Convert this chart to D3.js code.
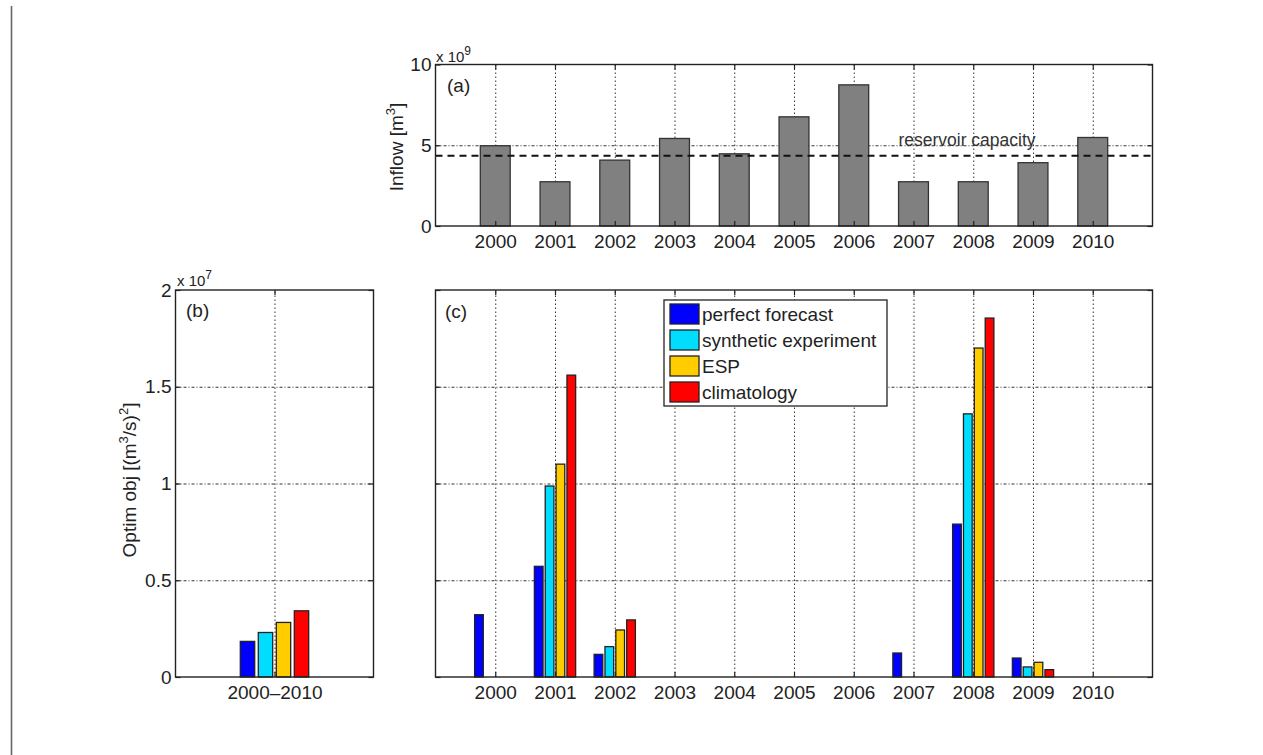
<!DOCTYPE html>
<html>
<head>
<meta charset="utf-8">
<script src="https://cdn.jsdelivr.net/npm/d3@7"></script>
<style>
body { margin: 0; background: #fff; }
svg text { font-family: "Liberation Sans", Arial, Helvetica, sans-serif; fill: #222; }
.grid line { stroke: #333; stroke-width: 1; }
.gridx line { stroke-dasharray: 1.5, 2.5; }
.gridy line { stroke-dasharray: 3, 2, 1, 2; }
.ticks line { stroke: #222; stroke-width: 1.2; }
.ticks text { font-size: 19px; }
</style>
</head>
<body>
<div id="chart"></div>
<script>
// (a) yearly inflow, x 10^9 m3
const years = [2000, 2001, 2002, 2003, 2004, 2005, 2006, 2007, 2008, 2009, 2010];
const inflow = [4.97, 2.74, 4.08, 5.42, 4.47, 6.76, 8.74, 2.74, 2.74, 3.92, 5.48];
const reservoirCapacity = 4.35;

// (b) and (c) optim objective, x 10^7 (m3/s)^2
const seriesNames = ["perfect forecast", "synthetic experiment", "ESP", "climatology"];
const seriesColors = ["#0000ff", "#00ddff", "#ffcc00", "#ff0000"];
const totalObj = [0.184, 0.23, 0.282, 0.342]; // 2000-2010
const perfectForecast = [0.322, 0.572, 0.117, 0, 0, 0, 0, 0.124, 0.79, 0.098, 0];
const syntheticExp = [0, 0.987, 0.157, 0, 0, 0, 0, 0, 1.36, 0.052, 0];
const esp = [0, 1.10, 0.243, 0, 0, 0, 0, 0, 1.70, 0.076, 0];
const climatology = [0, 1.56, 0.295, 0, 0, 0, 0, 0, 1.855, 0.038, 0];

const inflowTicks = [0, 5, 10];
const objTicks = [0, 0.5, 1, 1.5, 2];

var W = 1263, H = 755;
var svg = d3.select("#chart").append("svg")
    .attr("width", W)
    .attr("height", H);
svg.append("rect").attr("width", W).attr("height", H).attr("fill", "#fff");

// page edge line
svg.append("line")
    .attr("x1", 11.5).attr("x2", 11.5)
    .attr("y1", 6).attr("y2", H)
    .attr("stroke", "#666").attr("stroke-width", 1.6);

var boxA = {left: 435.5, right: 1152.5, top: 64.5, bottom: 226};
var boxB = {left: 175.5, right: 373.5, top: 290, bottom: 677};
var boxC = {left: 435.5, right: 1152.5, top: 290, bottom: 677};

var xYear = d3.scaleLinear().domain([1999, 2011]).range([boxA.left, boxA.right]);
var yA = d3.scaleLinear().domain([0, 10]).range([boxA.bottom, boxA.top]);
var xB = d3.scaleLinear().domain([-1, 1]).range([boxB.left, boxB.right]);
var yObj = d3.scaleLinear().domain([0, 2]).range([boxB.bottom, boxB.top]);

const addGrid = function (xScale, xTicks, yScale, yTicks, box) {
    svg.append("g").attr("class", "grid gridx")
        .attr("transform", "translate(0," + box.bottom + ")")
        .call(d3.axisBottom(xScale).tickValues(xTicks).tickSize(-(box.bottom - box.top)).tickFormat(""));
    svg.append("g").attr("class", "grid gridy")
        .attr("transform", "translate(" + box.left + ",0)")
        .call(d3.axisLeft(yScale).tickValues(yTicks.filter(v => v > yScale.domain()[0] && v < yScale.domain()[1]))
            .tickSize(-(box.right - box.left)).tickFormat(""));
    svg.selectAll(".grid .domain").remove();
}

const addTicks = function (xScale, xTicks, xFormat, yScale, yTicks, yFormat, box) {
    svg.append("g").attr("class", "ticks")
        .attr("transform", "translate(0," + box.bottom + ")")
        .call(d3.axisBottom(xScale).tickValues(xTicks).tickSize(-5).tickPadding(9).tickFormat(xFormat));
    svg.append("g").attr("class", "ticks")
        .attr("transform", "translate(0," + box.top + ")")
        .call(d3.axisTop(xScale).tickValues(xTicks).tickSize(-5).tickFormat(""));
    svg.append("g").attr("class", "ticks")
        .attr("transform", "translate(" + box.left + ",0)")
        .call(d3.axisLeft(yScale).tickValues(yTicks).tickSize(-5).tickPadding(4).tickFormat(yFormat));
    svg.append("g").attr("class", "ticks")
        .attr("transform", "translate(" + box.right + ",0)")
        .call(d3.axisRight(yScale).tickValues(yTicks).tickSize(-5).tickFormat(""));
    svg.selectAll(".ticks .domain").remove();
}

const drawBox = function (box) {
    svg.append("rect")
        .attr("x", box.left).attr("y", box.top)
        .attr("width", box.right - box.left).attr("height", box.bottom - box.top)
        .attr("fill", "none").attr("stroke", "#222").attr("stroke-width", 1.4);
}

const expLabel = function (x, y, exp) {
    var t = svg.append("text").attr("x", x).attr("y", y).style("font-size", "15px");
    t.append("tspan").text("x 10");
    t.append("tspan").attr("dy", -7).style("font-size", "12px").text(exp);
}

// ---------- panel (a) ----------
addGrid(xYear, years, yA, inflowTicks, boxA);

var barW = 0.5;
svg.selectAll("rect.inflow")
    .data(years.map((y, i) => ({year: y, v: inflow[i]})))
    .join("rect")
    .attr("class", "inflow")
    .attr("x", d => xYear(d.year - barW / 2))
    .attr("width", d => xYear(d.year + barW / 2) - xYear(d.year - barW / 2))
    .attr("y", d => yA(d.v))
    .attr("height", d => yA(0) - yA(d.v))
    .attr("fill", "#808080")
    .attr("stroke", "#333")
    .attr("stroke-width", 1.3);

svg.append("line")
    .attr("x1", boxA.left).attr("x2", boxA.right)
    .attr("y1", yA(reservoirCapacity)).attr("y2", yA(reservoirCapacity))
    .attr("stroke", "#111").attr("stroke-width", 2.2)
    .attr("stroke-dasharray", "7,5");

svg.append("text")
    .attr("x", 967).attr("y", 146)
    .attr("text-anchor", "middle")
    .style("font-size", "17.5px").style("fill", "#333")
    .text("reservoir capacity");

addTicks(xYear, years, d3.format("d"), yA, inflowTicks, d => String(d), boxA);
drawBox(boxA);

svg.append("text").attr("x", 447).attr("y", 92).style("font-size", "19px").text("(a)");
expLabel(436, 62, "9");

var labA = svg.append("text")
    .attr("transform", "translate(403,147) rotate(-90)")
    .attr("text-anchor", "middle")
    .style("font-size", "19px");
labA.append("tspan").text("Inflow [m");
labA.append("tspan").attr("dy", -8).style("font-size", "13px").text("3");
labA.append("tspan").attr("dy", 8).text("]");

// ---------- panel (b) ----------
addGrid(xB, [0], yObj, objTicks, boxB);

var nSeries = seriesNames.length;
var groupW = nSeries / (nSeries + 1.5);
var slot = groupW / nSeries;
var subW = slot * 0.8;

svg.selectAll("rect.total")
    .data(totalObj.map((v, i) => ({i: i, v: v})))
    .join("rect")
    .attr("class", "total")
    .attr("x", d => xB((d.i - 1.5) * slot - subW / 2))
    .attr("width", xB(subW) - xB(0))
    .attr("y", d => yObj(d.v))
    .attr("height", d => yObj(0) - yObj(d.v))
    .attr("fill", d => seriesColors[d.i])
    .attr("stroke", "#222")
    .attr("stroke-width", 1.3);

addTicks(xB, [0], () => "2000\u20132010", yObj, objTicks, d => String(d), boxB);
drawBox(boxB);

svg.append("text").attr("x", 186).attr("y", 317).style("font-size", "19px").text("(b)");
expLabel(177, 286, "7");

var labB = svg.append("text")
    .attr("transform", "translate(136,480) rotate(-90)")
    .attr("text-anchor", "middle")
    .style("font-size", "19px");
labB.append("tspan").text("Optim obj [(m");
labB.append("tspan").attr("dy", -8).style("font-size", "13px").text("3");
labB.append("tspan").attr("dy", 8).text("/s)");
labB.append("tspan").attr("dy", -8).style("font-size", "13px").text("2");
labB.append("tspan").attr("dy", 8).text("]");

// ---------- panel (c) ----------
var yC = yObj;
var xC = d3.scaleLinear().domain([1999, 2011]).range([boxC.left, boxC.right]);
addGrid(xC, years, yC, objTicks, boxC);

var groupSeries = [perfectForecast, syntheticExp, esp, climatology];
var cBars = [];
groupSeries.forEach((vals, s) => {
    vals.forEach((v, i) => {
        if (v > 0) cBars.push({s: s, year: years[i], v: v});
    });
});

svg.selectAll("rect.yearly")
    .data(cBars)
    .join("rect")
    .attr("class", "yearly")
    .attr("x", d => xC(d.year + (d.s - 1.5) * slot - subW / 2))
    .attr("width", xC(2000 + subW) - xC(2000))
    .attr("y", d => yC(d.v))
    .attr("height", d => yC(0) - yC(d.v))
    .attr("fill", d => seriesColors[d.s])
    .attr("stroke", "#222")
    .attr("stroke-width", 1.3);

addTicks(xC, years, d3.format("d"), yC, objTicks, "", boxC);
drawBox(boxC);

svg.append("text").attr("x", 445).attr("y", 318).style("font-size", "19px").text("(c)");

// legend
var legend = svg.append("g").attr("transform", "translate(664,300)");
legend.append("rect")
    .attr("width", 223).attr("height", 106)
    .attr("fill", "#fff").attr("stroke", "#222").attr("stroke-width", 1.3);
var items = legend.selectAll("g.item")
    .data(seriesNames)
    .join("g")
    .attr("class", "item")
    .attr("transform", (d, i) => "translate(6," + (4 + i * 26) + ")");
items.append("rect")
    .attr("width", 29).attr("height", 20)
    .attr("fill", (d, i) => seriesColors[i])
    .attr("stroke", "#222").attr("stroke-width", 1.3);
items.append("text")
    .attr("x", 32).attr("y", 17)
    .style("font-size", "19px")
    .text(d => d);
</script>
</body>
</html>
